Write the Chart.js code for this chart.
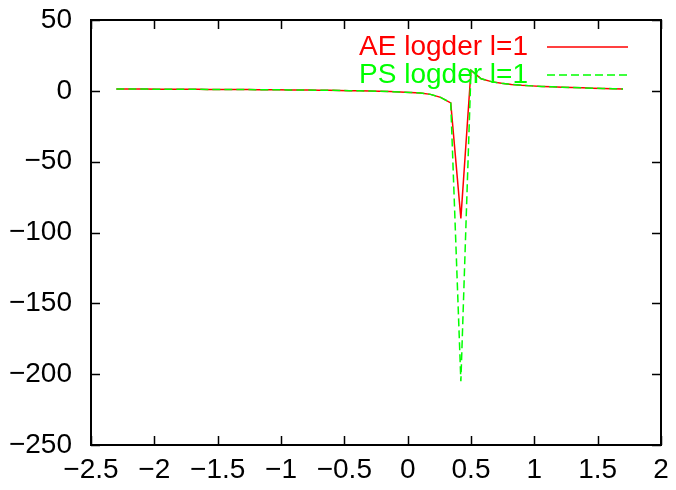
<!DOCTYPE html>
<html>
<head>
<meta charset="utf-8">
<script src="https://cdn.jsdelivr.net/npm/chart.js@4/dist/chart.umd.min.js"></script>
<style>
  html, body { margin: 0; padding: 0; background: #fff; }
  #chart { display: block; }
</style>
</head>
<body>
<canvas id="chart" width="676" height="490"></canvas>
<script>
// energies (x) and logarithmic derivatives
var xValues = [-2.30, -2.22, -2.14, -2.06, -1.98, -1.90, -1.82, -1.74, -1.66, -1.58,
  -1.50, -1.42, -1.34, -1.26, -1.18, -1.10, -1.02, -0.94, -0.86, -0.78,
  -0.70, -0.62, -0.54, -0.46, -0.38, -0.30, -0.22, -0.14, -0.06, 0.02,
  0.10, 0.18, 0.26, 0.34, 0.42, 0.50, 0.58, 0.66, 0.74, 0.82,
  0.90, 0.98, 1.06, 1.14, 1.22, 1.30, 1.38, 1.46, 1.54, 1.62, 1.70];

var aeValues = [1.30, 1.27, 1.24, 1.21, 1.18, 1.15, 1.12, 1.09, 1.05, 1.02,
  0.98, 0.94, 0.90, 0.86, 0.82, 0.77, 0.72, 0.66, 0.60, 0.53,
  0.45, 0.36, 0.26, 0.14, 0.00, -0.15, -0.33, -0.55, -0.80, -1.10,
  -1.60, -2.50, -4.60, -8.50, -90, 14.5, 8.5, 6.5, 5.3, 4.5,
  3.9, 3.5, 3.1, 2.8, 2.5, 2.3, 2.1, 1.9, 1.7, 1.5, 1.3];

var psValues = [1.30, 1.27, 1.24, 1.21, 1.18, 1.15, 1.12, 1.09, 1.05, 1.02,
  0.98, 0.94, 0.90, 0.86, 0.82, 0.77, 0.72, 0.66, 0.60, 0.53,
  0.45, 0.36, 0.26, 0.14, 0.00, -0.15, -0.33, -0.55, -0.80, -1.10,
  -1.60, -2.50, -4.60, -8.50, -205, 14.5, 8.5, 6.5, 5.3, 4.5,
  3.9, 3.5, 3.1, 2.8, 2.5, 2.3, 2.1, 1.9, 1.7, 1.5, 1.3];

var seriesLabels = ['AE logder l=1', 'PS logder l=1'];
var xTicks = [-2.5, -2, -1.5, -1, -0.5, 0, 0.5, 1, 1.5, 2];
var yTicks = [-250, -200, -150, -100, -50, 0, 50];

var FONT = '"Liberation Sans", Arial, sans-serif';
var FONT_SIZE = 28;

function toPoints(ys) {
  return xValues.map(function(x, i) { return {x: x, y: ys[i]}; });
}

// postscript style minus sign
function tickText(v) {
  return String(v).replace('-', '\u2212');
}

// gnuplot style frame with inward ticks on all four sides
var framePlugin = {
  id: 'frame',
  afterDatasetsDraw: function(chart) {
    var ctx = chart.ctx, a = chart.chartArea;
    var xs = chart.scales.x, ys = chart.scales.y;
    var tick = 9;
    ctx.save();
    ctx.strokeStyle = '#000';
    ctx.lineWidth = 1.5;
    ctx.beginPath();
    xTicks.forEach(function(v) {
      var px = Math.round(xs.getPixelForValue(v)) + 0.5;
      ctx.moveTo(px, a.bottom); ctx.lineTo(px, a.bottom - tick);
      ctx.moveTo(px, a.top); ctx.lineTo(px, a.top + tick);
    });
    yTicks.forEach(function(v) {
      var py = Math.round(ys.getPixelForValue(v)) + 0.5;
      ctx.moveTo(a.left, py); ctx.lineTo(a.left + tick, py);
      ctx.moveTo(a.right, py); ctx.lineTo(a.right - tick, py);
    });
    ctx.stroke();
    ctx.lineWidth = 2;
    ctx.strokeRect(a.left, a.top, a.right - a.left, a.bottom - a.top);

    // key, text right aligned with the sample line after it
    var ds = chart.data.datasets;
    ctx.font = FONT_SIZE + 'px ' + FONT;
    ctx.textAlign = 'right';
    ctx.textBaseline = 'middle';
    [0, 1].forEach(function(i) {
      var y = 47 + i * 28;
      ctx.fillStyle = ds[i].borderColor;
      ctx.fillText(seriesLabels[i], 528, y);
      ctx.strokeStyle = ds[i].borderColor;
      ctx.lineWidth = ds[i].borderWidth;
      ctx.setLineDash(ds[i].borderDash || []);
      ctx.beginPath();
      ctx.moveTo(547, y);
      ctx.lineTo(628, y);
      ctx.stroke();
    });
    ctx.restore();
  }
};

new Chart(document.getElementById('chart'), {
  type: 'line',
  data: {
    datasets: [{
      label: seriesLabels[0],
      data: toPoints(aeValues),
      borderColor: '#ff0000',
      borderWidth: 1.5,
      pointRadius: 0,
      tension: 0,
      order: 1
    }, {
      label: seriesLabels[1],
      data: toPoints(psValues),
      borderColor: '#00ff00',
      borderWidth: 1.5,
      borderDash: [8, 4],
      pointRadius: 0,
      tension: 0,
      order: 0
    }]
  },
  options: {
    responsive: false,
    animation: false,
    devicePixelRatio: 1,
    layout: {padding: {top: 20, right: 15, left: 0, bottom: 0}},
    plugins: {legend: {display: false}, tooltip: {enabled: false}},
    scales: {
      x: {
        type: 'linear',
        min: -2.5,
        max: 2,
        afterBuildTicks: function(s) { s.ticks = xTicks.map(function(v) { return {value: v}; }); },
        afterFit: function(s) { s.height = 45; s.paddingLeft = 0; s.paddingRight = 0; },
        grid: {display: false, drawTicks: false},
        border: {display: false},
        ticks: {
          padding: 8,
          maxRotation: 0,
          autoSkip: false,
          color: '#000',
          font: {family: FONT, size: FONT_SIZE},
          callback: tickText
        }
      },
      y: {
        type: 'linear',
        min: -250,
        max: 50,
        afterBuildTicks: function(s) { s.ticks = yTicks.map(function(v) { return {value: v}; }); },
        afterFit: function(s) { s.width = 91; s.paddingTop = 0; s.paddingBottom = 0; },
        grid: {display: false, drawTicks: false},
        border: {display: false},
        ticks: {
          padding: 19,
          autoSkip: false,
          color: '#000',
          font: {family: FONT, size: FONT_SIZE},
          callback: tickText
        }
      }
    }
  },
  plugins: [framePlugin]
});
</script>
</body>
</html>
